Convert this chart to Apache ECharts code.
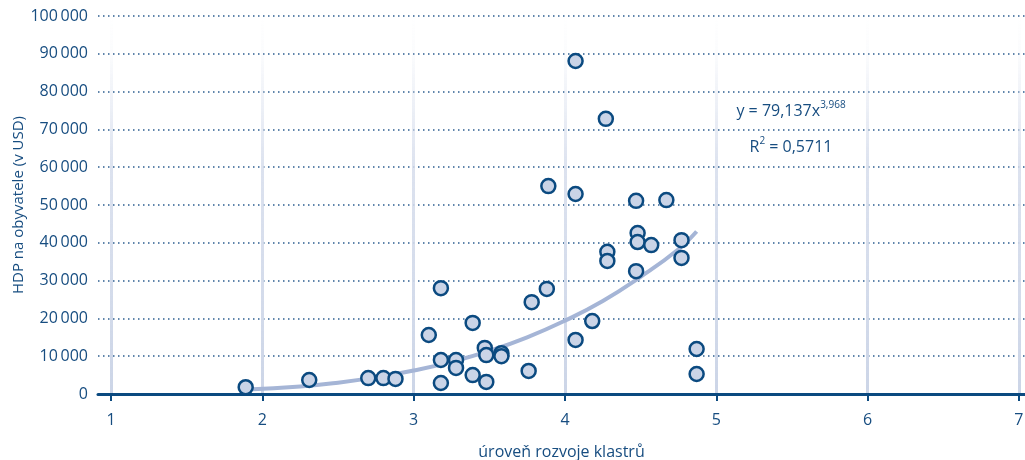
<!DOCTYPE html>
<html>
<head>
<meta charset="utf-8">
<script src="https://cdn.jsdelivr.net/npm/echarts@6/dist/echarts.min.js"></script>
<style>
  html, body { margin: 0; padding: 0; background: #fff; }
  #chart { width: 1025px; height: 460px; }
</style>
</head>
<body>
<div id="chart"></div>
<script>
// úroveň rozvoje klastrů (x) a HDP na obyvatele (y)
var clusterLevel = [1.89, 2.31, 2.70, 2.80, 2.88, 3.10, 3.18, 3.18, 3.18, 3.28, 3.28, 3.39, 3.39,
  3.47, 3.48, 3.48, 3.58, 3.58, 3.76, 3.78, 3.88, 3.89, 4.07, 4.07, 4.07, 4.18, 4.27, 4.28,
  4.28, 4.47, 4.48, 4.48, 4.47, 4.57, 4.67, 4.77, 4.77, 4.87, 4.87];
var gdpPerCapita = [1800, 3700, 4200, 4200, 4000, 15600, 28000, 9000, 2900, 9000, 6900, 18800, 5000,
  12200, 10300, 3200, 10800, 10000, 6100, 24300, 27800, 55000, 88100, 52900, 14300, 19300, 72800, 37600,
  35200, 51100, 42600, 40200, 32500, 39400, 51300, 40700, 36000, 11900, 5300];

// mocninná regresní křivka
var trendX = [1.9, 2.25, 2.5, 2.75, 3.0, 3.25, 3.5, 3.75, 4.0, 4.25, 4.5, 4.75, 4.87];
var trendY = [1200, 2000, 3000, 4400, 6200, 8500, 11400, 15000, 19400, 24600, 31000, 38300, 43000];

var xTicks = [1, 2, 3, 4, 5, 6, 7];
var equationText = ['y = 79,137x', '3,968'];
var r2Text = ['R', '2', ' = 0,5711'];

var textColor = '#174d80';
var darkBlue = '#0b4a80';

var chart = echarts.init(document.getElementById('chart'));

function fmt(v) {
  return String(v).replace(/\B(?=(\d{3})+(?!\d))/g, '\u2009');
}

var points = clusterLevel.map(function (x, i) { return [x, gdpPerCapita[i]]; });
var trend = trendX.map(function (x, i) { return [x, trendY[i]]; });

var option = {
  animation: false,
  textStyle: { fontFamily: 'Open Sans' },
  grid: { left: 98, right: 0, top: 16, bottom: 66, outerBoundsMode: 'none', containLabel: false },
  xAxis: {
    type: 'value',
    min: 0.914,
    max: 7.04,
    name: 'úroveň rozvoje klastrů',
    nameLocation: 'middle',
    nameGap: 50,
    nameMoveOverlap: false,
    nameTextStyle: { color: textColor, fontSize: 16 },
    axisLine: { show: true, onZero: false, lineStyle: { color: darkBlue, width: 3 } },
    axisTick: { show: true, customValues: xTicks, length: 7, lineStyle: { color: darkBlue, width: 2 } },
    axisLabel: {
      customValues: xTicks, color: textColor, fontSize: 16, margin: 18,
      formatter: function (v) { return String(v); }
    },
    splitLine: {
      show: true,
      lineStyle: {
        width: 3,
        color: new echarts.graphic.LinearGradient(0, 16, 0, 394, [
          { offset: 0, color: 'rgba(214,221,236,0)' },
          { offset: 0.1, color: 'rgba(214,221,236,0.1)' },
          { offset: 0.4, color: 'rgba(214,221,236,0.85)' },
          { offset: 1, color: '#ccd5e7' }
        ], true)
      }
    }
  },
  yAxis: {
    type: 'value',
    min: 0,
    max: 100000,
    interval: 10000,
    name: 'HDP na obyvatele (v USD)',
    nameLocation: 'middle',
    nameGap: 72,
    nameMoveOverlap: false,
    nameTextStyle: { color: textColor, fontSize: 15 },
    axisLine: { show: false },
    axisTick: { show: false },
    axisLabel: { color: textColor, fontSize: 16, margin: 10, formatter: fmt },
    splitLine: {
      show: true,
      lineStyle: { color: '#2c5e90', width: 1.5, type: [1.5, 3.5] }
    }
  },
  series: [
    {
      type: 'line',
      data: trend,
      smooth: true,
      showSymbol: false,
      z: 1,
      lineStyle: { color: '#a5b5d6', width: 4 }
    },
    {
      type: 'scatter',
      data: points,
      symbolSize: 14,
      z: 3,
      itemStyle: { color: '#cad4e7', borderColor: darkBlue, borderWidth: 2.5, opacity: 1 }
    }
  ],
  graphic: [
    {
      type: 'text',
      x: 791,
      y: 111,
      style: {
        text: '{a|' + equationText[0] + '}{s|' + equationText[1] + '}',
        align: 'center',
        verticalAlign: 'middle',
        rich: {
          a: { fontSize: 16, fill: textColor, fontFamily: 'Open Sans' },
          s: { fontSize: 10, fill: textColor, fontFamily: 'Open Sans', padding: [0, 0, 11, 0] }
        }
      }
    },
    {
      type: 'text',
      x: 791,
      y: 147,
      style: {
        text: '{a|' + r2Text[0] + '}{s|' + r2Text[1] + '}{a|' + r2Text[2] + '}',
        align: 'center',
        verticalAlign: 'middle',
        rich: {
          a: { fontSize: 16, fill: textColor, fontFamily: 'Open Sans' },
          s: { fontSize: 10, fill: textColor, fontFamily: 'Open Sans', padding: [0, 0, 11, 0] }
        }
      }
    }
  ]
};

chart.setOption(option);
</script>
</body>
</html>
